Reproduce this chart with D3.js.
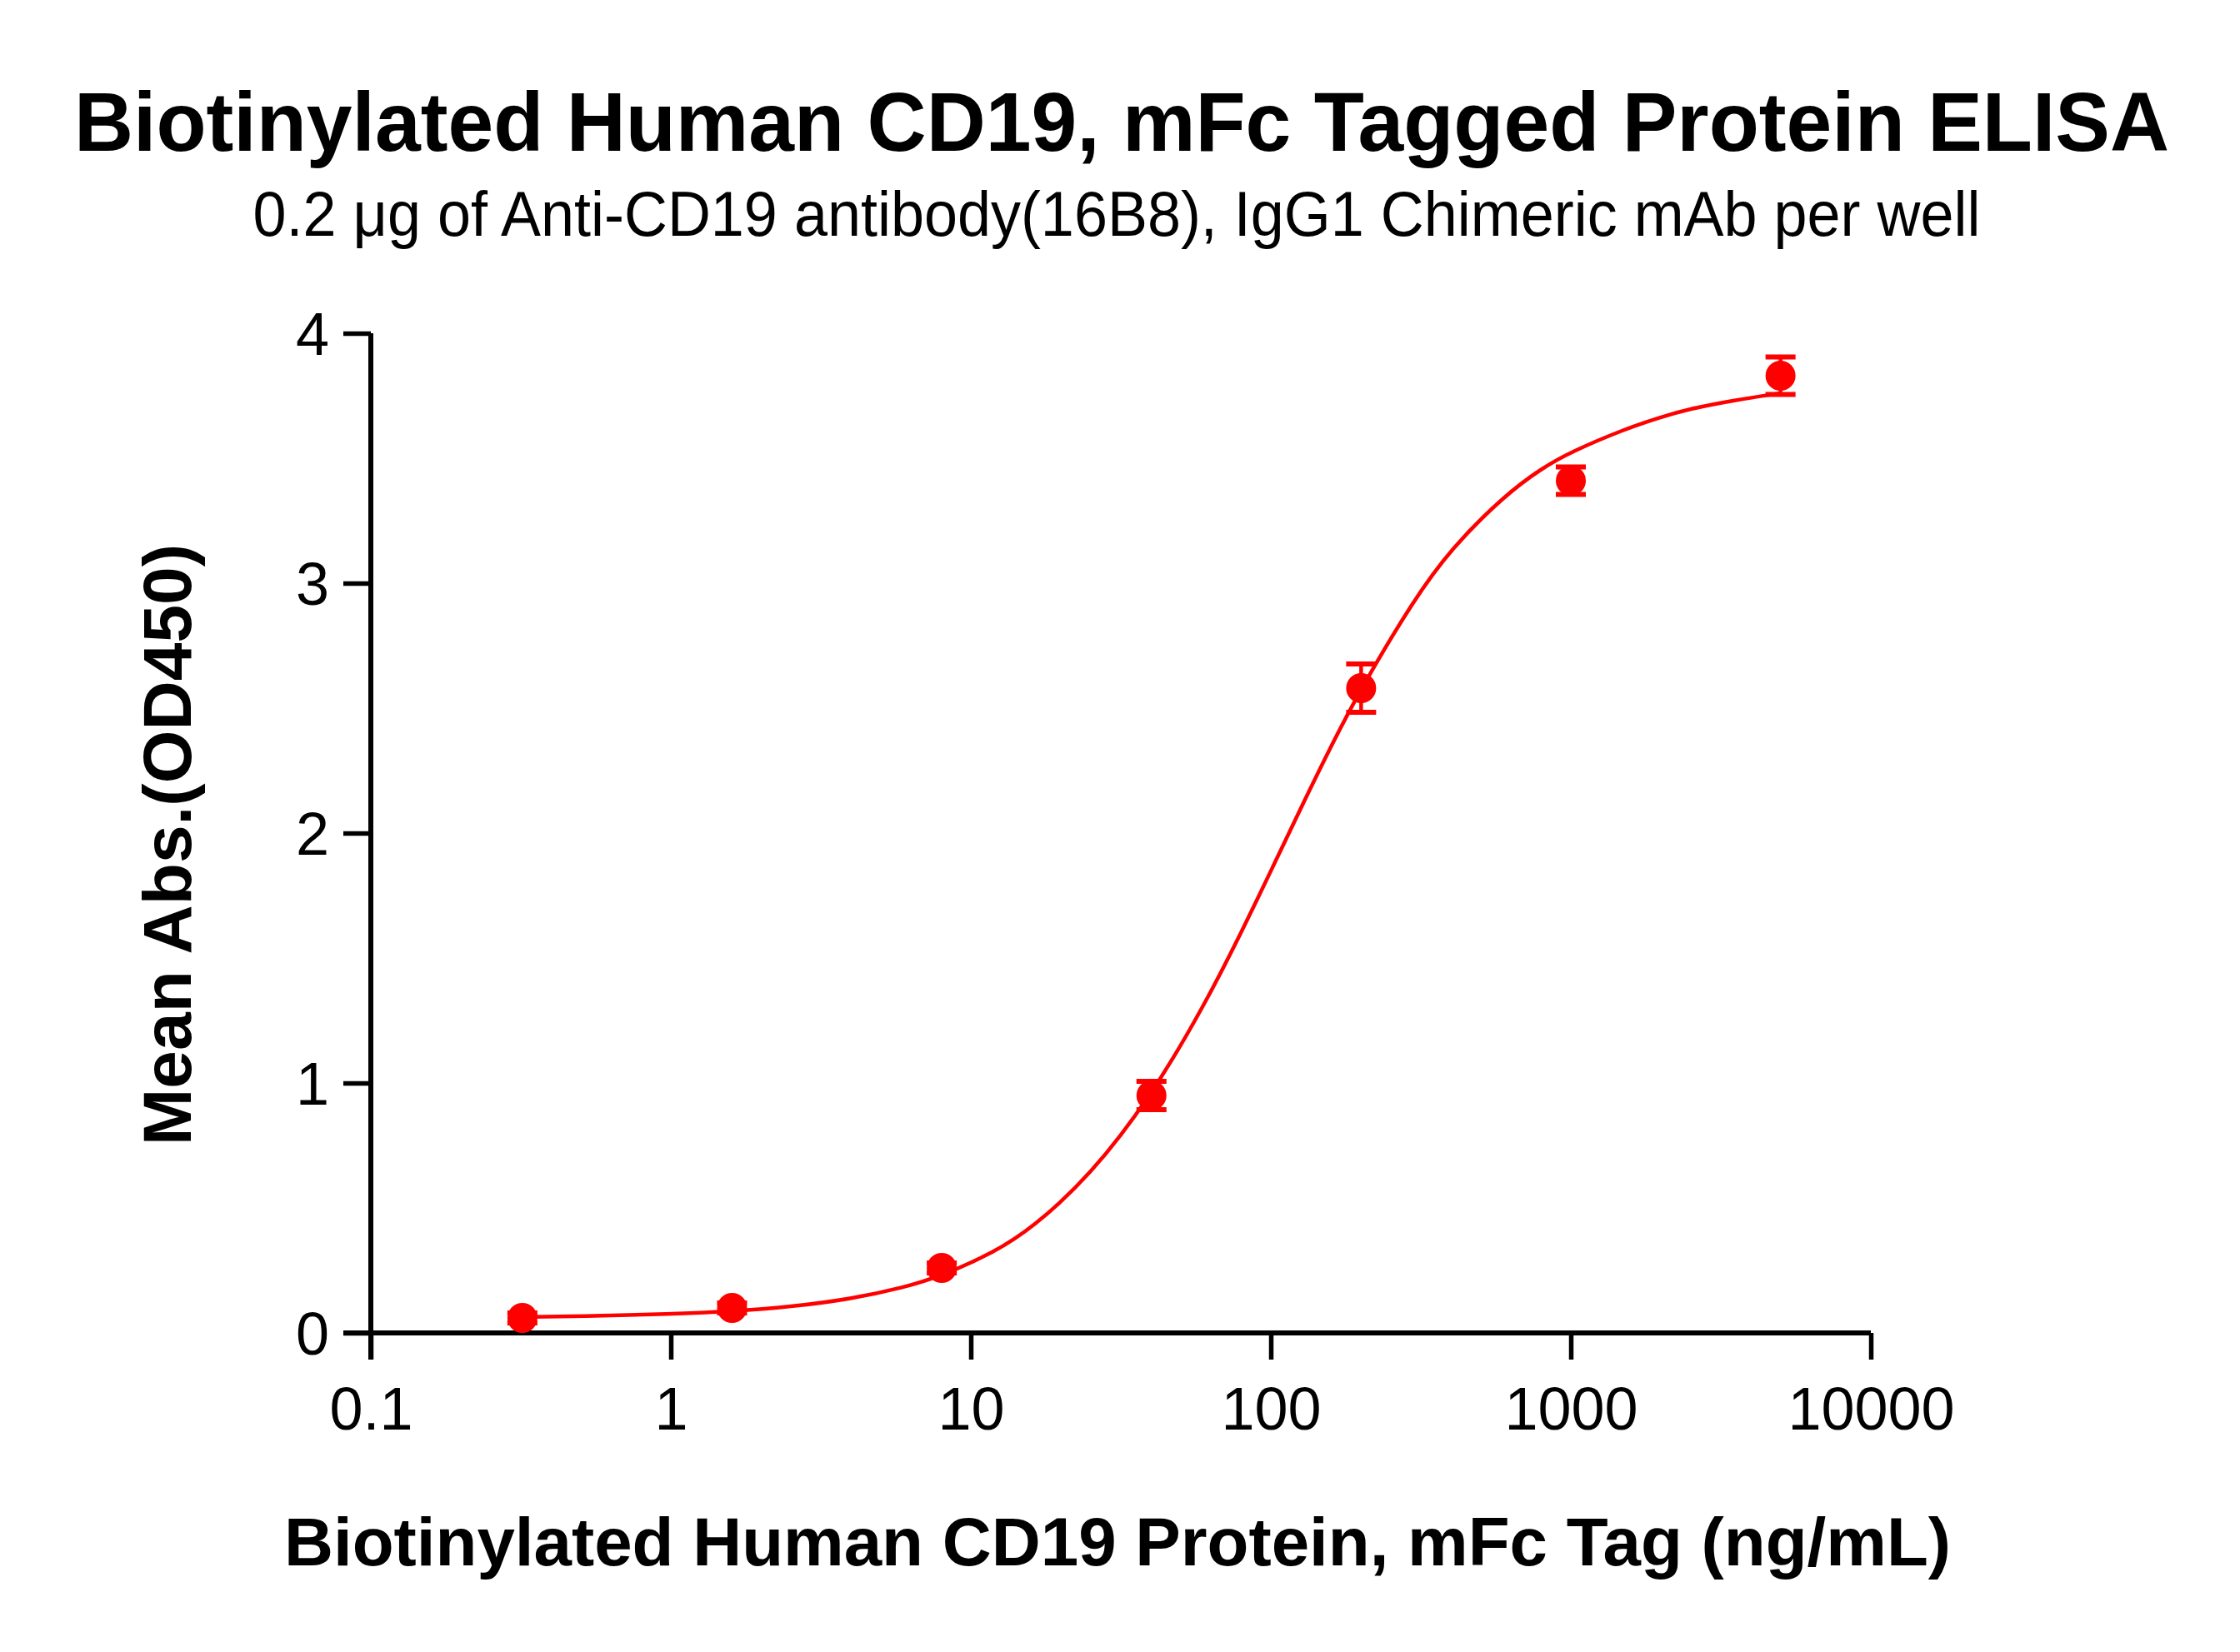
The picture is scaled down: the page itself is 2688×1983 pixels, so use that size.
<!DOCTYPE html>
<html>
<head>
<meta charset="utf-8">
<script src="https://cdn.jsdelivr.net/npm/d3@7"></script>
<style>
body { margin: 0; background: #fff; }
svg { display: block; font-family: "Liberation Sans", Arial, sans-serif; }
</style>
</head>
<body>
<svg width="2688" height="1983"></svg>
<script>
// measured points (ng/mL vs mean OD450)
var conc = [0.32, 1.6, 8, 40, 200, 1000, 5000];
var od = [0.06, 0.10, 0.26, 0.95, 2.58, 3.41, 3.83];
var sd = [0.02, 0.02, 0.02, 0.057, 0.097, 0.055, 0.075];
// fitted curve
var fitConc = [0.32, 0.5, 1, 1.6, 2.5, 4, 6, 8, 12, 16, 25, 40, 60, 80, 100, 130, 160, 200, 300, 400, 600, 800, 1000, 1500, 2000, 2500, 3500, 5000];
var fitOD = [0.064, 0.067, 0.075, 0.086, 0.104, 0.136, 0.182, 0.228, 0.323, 0.419, 0.629, 0.949, 1.31, 1.606, 1.848, 2.135, 2.356, 2.58, 2.935, 3.14, 3.35, 3.46, 3.525, 3.615, 3.665, 3.698, 3.732, 3.76];
var xTicks = [0.1, 1, 10, 100, 1000, 10000];
var yTicks = [0, 1, 2, 3, 4];

var svg = d3.select("svg");
svg.append("rect").attr("width", 2688).attr("height", 1983).attr("fill", "#fff");

var xScale = d3.scaleLog().domain([0.1, 10000]).range([445, 2245]);
var yScale = d3.scaleLinear().domain([0, 4]).range([1600, 400]);

// axes
var xAxis = svg.append("g").attr("transform", "translate(0,1600)")
	.call(d3.axisBottom(xScale).tickValues(xTicks).tickSize(32).tickSizeOuter(0)
		.tickPadding(33).tickFormat(d3.format("~g")));
var yAxis = svg.append("g").attr("transform", "translate(445,0)")
	.call(d3.axisLeft(yScale).tickValues(yTicks).tickSize(33).tickSizeOuter(0)
		.tickPadding(17).tickFormat(d3.format("d")));
[xAxis, yAxis].forEach(function(g) {
	g.select(".domain").remove();
	g.selectAll(".tick line").attr("stroke", "#000").attr("stroke-width", 5.5);
	g.selectAll(".tick text").attr("fill", "#000").style("font-size", "72px")
		.style("font-family", "'Liberation Sans', Arial, sans-serif");
});
yAxis.selectAll(".tick text").attr("dy", "0.36em");
svg.append("line").attr("x1", xScale(0.1)).attr("x2", xScale(0.1))
	.attr("y1", yScale(4)).attr("y2", yScale(0) + 32)
	.attr("stroke", "#000").attr("stroke-width", 6);
svg.append("line").attr("x1", xScale(0.1) - 33).attr("x2", xScale(10000))
	.attr("y1", yScale(0)).attr("y2", yScale(0))
	.attr("stroke", "#000").attr("stroke-width", 6);

// curve
var line = d3.line().curve(d3.curveBasis)
	.x(function(d) { return xScale(d[0]); })
	.y(function(d) { return yScale(d[1]); });
svg.append("path").datum(d3.zip(fitConc, fitOD)).attr("d", line)
	.attr("fill", "none").attr("stroke", "#ff0000").attr("stroke-width", 4.5);

// error bars and points
var pts = svg.append("g").selectAll("g").data(d3.range(conc.length)).enter().append("g")
	.attr("fill", "#ff0000").attr("stroke", "#ff0000");
pts.append("line")
	.attr("x1", function(i) { return xScale(conc[i]); })
	.attr("x2", function(i) { return xScale(conc[i]); })
	.attr("y1", function(i) { return yScale(od[i] - sd[i]); })
	.attr("y2", function(i) { return yScale(od[i] + sd[i]); })
	.attr("stroke-width", 4.5);
[1, -1].forEach(function(s) {
	pts.append("line")
		.attr("x1", function(i) { return xScale(conc[i]) - 18; })
		.attr("x2", function(i) { return xScale(conc[i]) + 18; })
		.attr("y1", function(i) { return yScale(od[i] + s * sd[i]); })
		.attr("y2", function(i) { return yScale(od[i] + s * sd[i]); })
		.attr("stroke-width", 6);
});
pts.append("circle")
	.attr("cx", function(i) { return xScale(conc[i]); })
	.attr("cy", function(i) { return yScale(od[i]); })
	.attr("r", 18).attr("stroke", "none");

// titles
svg.append("text").attr("x", 1346).attr("y", 181).attr("text-anchor", "middle")
	.attr("font-weight", "bold").attr("font-size", 100)
	.attr("textLength", 2514).attr("lengthAdjust", "spacingAndGlyphs")
	.text("Biotinylated Human CD19, mFc Tagged Protein ELISA");
svg.append("text").attr("x", 1340).attr("y", 283).attr("text-anchor", "middle")
	.attr("font-size", 76)
	.attr("textLength", 2073).attr("lengthAdjust", "spacingAndGlyphs")
	.text("0.2 \u03bcg of Anti-CD19 antibody(16B8), IgG1 Chimeric mAb per well");
svg.append("text").attr("x", 1341).attr("y", 1879).attr("text-anchor", "middle")
	.attr("font-weight", "bold").attr("font-size", 81)
	.attr("textLength", 2000).attr("lengthAdjust", "spacingAndGlyphs")
	.text("Biotinylated Human CD19 Protein, mFc Tag (ng/mL)");
svg.append("text").attr("transform", "translate(229,1014) rotate(-90)")
	.attr("text-anchor", "middle")
	.attr("font-weight", "bold").attr("font-size", 81)
	.attr("textLength", 722).attr("lengthAdjust", "spacingAndGlyphs")
	.text("Mean Abs.(OD450)");
</script>
</body>
</html>
